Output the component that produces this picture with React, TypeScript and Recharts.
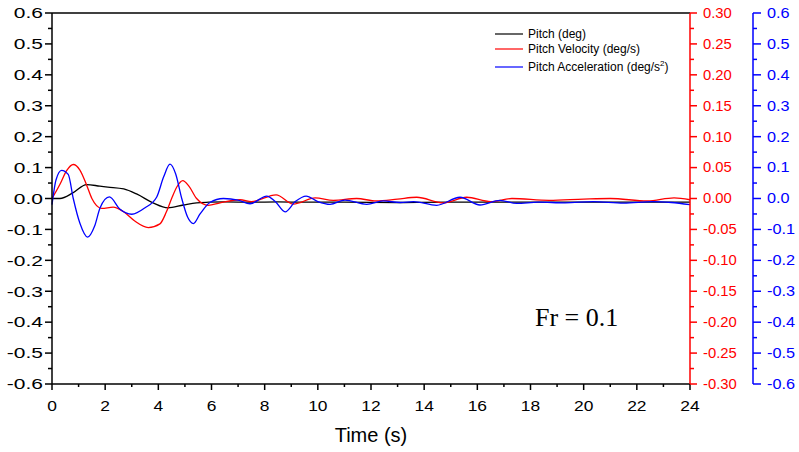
import { LineChart, Line, XAxis, YAxis, ReferenceLine } from "recharts";

const FONT = '"Liberation Sans", Arial, sans-serif';

// pitch angle (deg), left axis
const pitchTime = [0, 0.3, 0.8, 1.3, 1.8, 2.1, 2.7, 3.2, 3.8, 4.36, 4.94, 5.44, 5.9, 6.5, 7.5, 8.5, 9.5, 11, 13, 15, 17, 19, 21, 23, 24];
const pitchDeg = [0, 0.0, 0.019, 0.045, 0.04, 0.037, 0.031, 0.014, -0.014, -0.03, -0.021, -0.014, -0.012, -0.011, -0.012, -0.011, -0.012, -0.012, -0.013, -0.012, -0.012, -0.012, -0.012, -0.012, -0.012];

// pitch velocity (deg/s), red right axis
const velTime = [0, 0.3, 0.55, 0.8, 1.05, 1.3, 1.5, 1.87, 2.3, 2.68, 3.1, 3.62, 4.06, 4.3, 4.5, 4.7, 4.92, 5.15, 5.44, 5.88, 6.32, 7.07, 7.5, 8.43, 9.08, 9.9, 10.58, 11.46, 12.2, 13.0, 13.72, 14.72, 15.6, 16.5, 17.3, 18.7, 20.0, 21.0, 22.4, 23.4, 24];
const velDegS = [0, 0.023, 0.045, 0.055, 0.046, 0.022, 0.0, -0.016, -0.014, -0.021, -0.036, -0.047, -0.041, -0.022, 0.0, 0.019, 0.029, 0.02, 0.0, -0.011, -0.007, -0.002, -0.005, 0.006, -0.009, 0.001, -0.003, 0.0, -0.004, -0.001, 0.002, -0.007, 0.002, -0.005, 0.0, -0.003, -0.001, 0.0, -0.004, 0.001, -0.002];

// pitch acceleration (deg/s^2), blue right axis
const accTime = [0, 0.15, 0.36, 0.61, 0.8, 1.05, 1.34, 1.6, 1.81, 2.16, 2.56, 3.0, 3.5, 3.94, 4.2, 4.44, 4.65, 4.88, 5.1, 5.32, 5.57, 5.94, 6.45, 7.0, 7.45, 8.08, 8.4, 8.77, 9.15, 9.56, 10.0, 10.46, 11.02, 11.84, 12.46, 13.1, 13.6, 14.47, 15.35, 16.1, 16.85, 17.48, 18.3, 19.3, 20.36, 21.5, 22.6, 23.3, 24];
const accDegS2 = [-0.02, 0.06, 0.091, 0.078, 0.0, -0.08, -0.125, -0.09, -0.03, 0.005, -0.035, -0.051, -0.03, 0.005, 0.07, 0.111, 0.08, 0.0, -0.06, -0.081, -0.05, -0.013, 0.0, -0.005, -0.017, 0.008, -0.01, -0.043, -0.01, 0.008, -0.01, -0.019, -0.005, -0.019, -0.008, -0.013, -0.01, -0.022, 0.004, -0.021, -0.006, -0.016, -0.012, -0.014, -0.01, -0.015, -0.01, -0.013, -0.02];

const timeMajor = [0, 2, 4, 6, 8, 10, 12, 14, 16, 18, 20, 22, 24];
const leftMajor = [-0.6, -0.5, -0.4, -0.3, -0.2, -0.1, 0, 0.1, 0.2, 0.3, 0.4, 0.5, 0.6];
const redMajor = [-0.3, -0.25, -0.2, -0.15, -0.1, -0.05, 0, 0.05, 0.1, 0.15, 0.2, 0.25, 0.3];
const blueMajor = [-0.6, -0.5, -0.4, -0.3, -0.2, -0.1, 0, 0.1, 0.2, 0.3, 0.4, 0.5, 0.6];

const pitchData = pitchTime.map((t, i) => ({ t, v: pitchDeg[i] }));
const velData = velTime.map((t, i) => ({ t, v: velDegS[i] }));
const accData = accTime.map((t, i) => ({ t, v: accDegS2[i] }));

function withMinor(major: number[]) {
  const out: number[] = [];
  major.forEach((v, i) => {
    out.push(v);
    if (i < major.length - 1) out.push((v + major[i + 1]) / 2);
  });
  return out;
}

const isMajor = (v: number, major: number[]) => major.some((m) => Math.abs(m - v) < 1e-6);

function LeftTick(props: any) {
  const { x, y, payload } = props;
  const major = isMajor(payload.value, leftMajor);
  return (
    <g>
      <line x1={x - (major ? 7 : 4)} x2={x} y1={y} y2={y} stroke="#000" strokeWidth={1.5} />
      {major && (
        <text transform={`translate(${x - 9},${y}) scale(1.4,1)`} textAnchor="end" dy=".35em" fontSize={15} fontFamily={FONT} fill="#000">
          {payload.value.toFixed(1)}
        </text>
      )}
    </g>
  );
}

function BottomTick(props: any) {
  const { x, y, payload } = props;
  const major = isMajor(payload.value, timeMajor);
  return (
    <g>
      <line x1={x} x2={x} y1={y} y2={y + (major ? 6 : 3)} stroke="#000" strokeWidth={1.5} />
      {major && (
        <text transform={`translate(${x},${y + 22}) scale(1.2,1)`} textAnchor="middle" dy=".35em" fontSize={14.5} fontFamily={FONT} fill="#000">
          {payload.value}
        </text>
      )}
    </g>
  );
}

function RedTick(props: any) {
  const { x, y, payload } = props;
  const major = isMajor(payload.value, redMajor);
  return (
    <g>
      <line x1={x} x2={x + (major ? 7 : 4)} y1={y} y2={y} stroke="#ff0000" strokeWidth={1.5} />
      {major && (
        <text transform={`translate(${x + 13},${y}) scale(1.06,1)`} textAnchor="start" dy=".35em" fontSize={14} fontFamily={FONT} fill="#ff0000">
          {payload.value.toFixed(2)}
        </text>
      )}
    </g>
  );
}

function BlueTick(props: any) {
  const { x, y, payload } = props;
  const major = isMajor(payload.value, blueMajor);
  return (
    <g>
      <line x1={x} x2={x + (major ? 8 : 4)} y1={y} y2={y} stroke="#0000ff" strokeWidth={1.5} />
      {major && (
        <text transform={`translate(${x + 14},${y}) scale(1.16,1)`} textAnchor="start" dy=".35em" fontSize={14} fontFamily={FONT} fill="#0000ff">
          {payload.value.toFixed(1)}
        </text>
      )}
    </g>
  );
}

export default function App() {
  return (
    <div style={{ position: "absolute", left: 0, top: 0, width: 799, height: 452, background: "#fff" }}>
      <LineChart width={799} height={452} margin={{ top: 13, right: 0, bottom: 0, left: 0 }}>
        <XAxis
          type="number"
          dataKey="t"
          domain={[0, 24]}
          ticks={withMinor(timeMajor)}
          interval={0}
          height={68}
          tickSize={0}
          tickMargin={0}
          tickLine={false}
          axisLine={{ stroke: "#000", strokeWidth: 1.5 }}
          tick={<BottomTick />}
          label={{ value: "Time (s)", position: "insideBottom", offset: 10, style: { fontSize: 20, fill: "#000", fontFamily: FONT } }}
        />
        <YAxis
          yAxisId="left"
          type="number"
          domain={[-0.6, 0.6]}
          ticks={withMinor(leftMajor)}
          interval={0}
          width={52}
          tickSize={0}
          tickMargin={0}
          tickLine={false}
          allowDataOverflow
          axisLine={{ stroke: "#000", strokeWidth: 1.5 }}
          tick={<LeftTick />}
        />
        <YAxis
          yAxisId="blue2"
          orientation="right"
          type="number"
          domain={[-0.6, 0.6]}
          ticks={withMinor(blueMajor)}
          interval={0}
          width={46}
          tickSize={0}
          tickMargin={0}
          tickLine={false}
          allowDataOverflow
          axisLine={{ stroke: "#0000ff", strokeWidth: 1.5 }}
          tick={<BlueTick />}
        />
        <YAxis
          yAxisId="ared"
          orientation="right"
          type="number"
          domain={[-0.3, 0.3]}
          ticks={withMinor(redMajor)}
          interval={0}
          width={63}
          tickSize={0}
          tickMargin={0}
          tickLine={false}
          allowDataOverflow
          axisLine={{ stroke: "#ff0000", strokeWidth: 1.5 }}
          tick={<RedTick />}
        />
        <ReferenceLine yAxisId="left" y={0.6} stroke="#000" strokeWidth={1.5} />
        <Line yAxisId="left" data={pitchData} dataKey="v" name="Pitch (deg)" type="monotone" stroke="#000" strokeWidth={1.3} dot={false} isAnimationActive={false} />
        <Line yAxisId="ared" data={velData} dataKey="v" name="Pitch Velocity (deg/s)" type="monotone" stroke="#ff0000" strokeWidth={1.3} dot={false} isAnimationActive={false} />
        <Line yAxisId="blue2" data={accData} dataKey="v" name="Pitch Acceleration" type="monotone" stroke="#0000ff" strokeWidth={1.3} dot={false} isAnimationActive={false} />
      </LineChart>
      <svg width={799} height={452} style={{ position: "absolute", left: 0, top: 0, pointerEvents: "none" }}>
        <g fontFamily={FONT} fontSize={12} fill="#000">
          <line x1={495} x2={523} y1={34} y2={34} stroke="#000" strokeWidth={1.2} />
          <text x={528} y={34} dy=".35em">Pitch (deg)</text>
          <line x1={495} x2={523} y1={49} y2={49} stroke="#ff0000" strokeWidth={1.2} />
          <text x={528} y={49} dy=".35em">Pitch Velocity (deg/s)</text>
          <line x1={495} x2={523} y1={67} y2={67} stroke="#0000ff" strokeWidth={1.2} />
          <text x={528} y={67} dy=".35em">
            Pitch Acceleration (deg/s
            <tspan dy={-5} fontSize={8}>2</tspan>
            <tspan dy={5}>)</tspan>
          </text>
        </g>
        <text x={535} y={326} fontFamily='"Liberation Serif", "Times New Roman", serif' fontSize={26} fill="#000">
          Fr = 0.1
        </text>
      </svg>
    </div>
  );
}
